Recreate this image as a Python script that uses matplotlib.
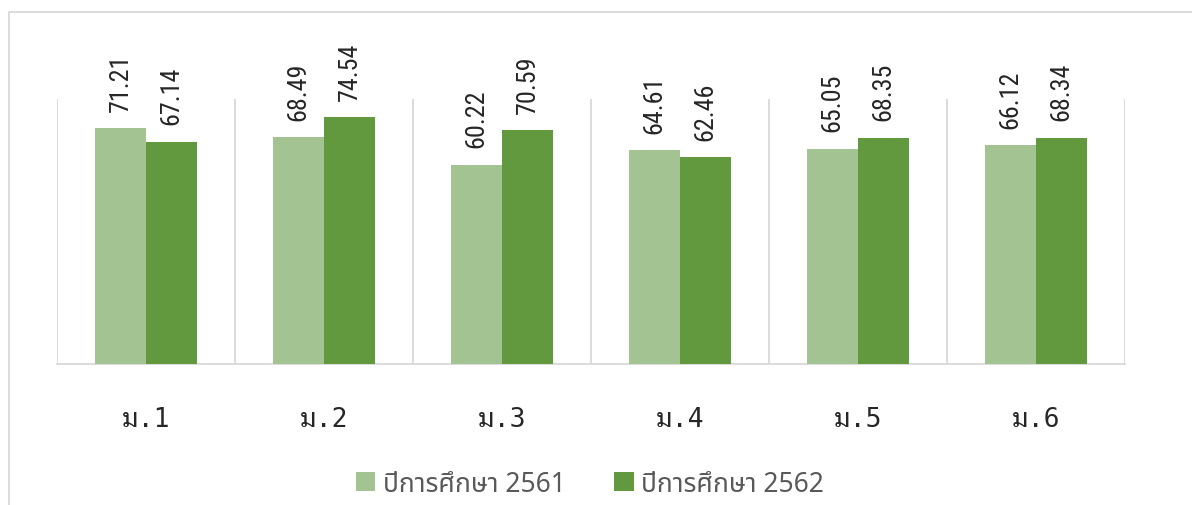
import matplotlib
matplotlib.use("Agg")
import matplotlib.pyplot as plt
from matplotlib import font_manager as fm
from matplotlib.patches import Rectangle
import numpy as np

categories = ["ม.1", "ม.2", "ม.3", "ม.4", "ม.5", "ม.6"]
series_names = ["ปีการศึกษา 2561", "ปีการศึกษา 2562"]
values_2561 = [71.21, 68.49, 60.22, 64.61, 65.05, 66.12]
values_2562 = [67.14, 74.54, 70.59, 62.46, 68.35, 68.34]

# find fonts with Thai glyphs
cands = []
try:
    from fontTools.ttLib import TTFont
    for f in fm.fontManager.ttflist:
        try:
            tt = TTFont(f.fname, fontNumber=0, lazy=True)
            cmap = tt.getBestCmap() or {}
            if all(c in cmap for c in (0x0E1B, 0x0E35, 0x0E21, 0x0E28)):
                cands.append(f.name)
        except Exception:
            pass
except Exception:
    pass


def pick(pref):
    for p in pref:
        if p in cands:
            return p
    return sorted(set(cands))[0] if cands else None


thai_family = pick(["Noto Sans Thai", "Noto Sans Thai UI", "Leelawadee UI", "Tahoma",
                    "Loma", "Garuda", "Waree", "Sarabun", "Noto Sans Thai Looped"])
thai_looped = pick(["Noto Sans Thai Looped", "Tlwg Typo", "Tlwg Mono", "Tahoma", "Loma",
                    "Noto Sans Thai", "Noto Sans Thai UI"])

thai_fams = ([thai_family] if thai_family else []) + ["DejaVu Sans"]
tick_fams = ["DejaVu Sans Mono"] + ([thai_looped] if thai_looped else []) + ["DejaVu Sans"]

# narrow font for the rotated numeric labels
narrow_path = None
stretch_ok = ("condensed", "semi-condensed", "extra-condensed", "narrow")
prefs = [("Liberation Sans Narrow", None), ("Roboto Condensed", None),
         ("Open Sans Condensed", None), ("Noto Sans", "cond"), ("Open Sans", "cond"),
         ("DejaVu Sans", "cond")]
for name, mode in prefs:
    for f in fm.fontManager.ttflist:
        if f.name != name or f.style != "normal":
            continue
        if str(f.weight) not in ("400", "normal", "regular", "book"):
            continue
        if mode == "cond" and str(f.stretch) not in stretch_ok:
            continue
        narrow_path = f.fname
        break
    if narrow_path:
        break
if narrow_path:
    label_prop = fm.FontProperties(fname=narrow_path, size=18.8)
else:
    label_prop = fm.FontProperties(family="DejaVu Sans", size=16)

light = "#A3C492"
dark = "#62993E"

W, H = 1192, 506
DPI = 100
fig = plt.figure(figsize=(W / DPI, H / DPI), dpi=DPI)
ax = fig.add_axes([57 / W, (H - 365) / H, (1125 - 57) / W, (365 - 100) / H])

x = np.arange(len(categories))
w = 0.286
b1 = ax.bar(x - w / 2, values_2561, w, color=light, label=series_names[0], zorder=3)
b2 = ax.bar(x + w / 2, values_2562, w, color=dark, label=series_names[1], zorder=3)

for bars, vals in ((b1, values_2561), (b2, values_2562)):
    for rect, v in zip(bars, vals):
        ax.annotate(f"{v:.2f}", (rect.get_x() + rect.get_width() / 2, v),
                    xytext=(0, 12.5), textcoords="offset points", rotation=90,
                    ha="center", va="bottom", color="#262626",
                    fontproperties=label_prop)

ax.set_xlim(-0.5, len(categories) - 0.5)
ax.set_ylim(0, 80)
for b in np.arange(-0.5, len(categories), 1.0):
    ax.axvline(b, color="#d9d9d9", lw=1.3, zorder=1)
for s in ("left", "right", "top"):
    ax.spines[s].set_visible(False)
ax.spines["bottom"].set_color("#d9d9d9")
ax.spines["bottom"].set_linewidth(1.3)
ax.set_yticks([])
ax.set_xticks(x)
ax.set_xticklabels(categories, family=tick_fams, fontsize=19, color="#262626")
ax.tick_params(axis="x", length=0, pad=30)

leg = fig.legend(handles=[b1, b2], labels=series_names, loc="center",
                 bbox_to_anchor=(590 / W, 1 - 485 / H), ncol=2, frameon=False,
                 prop=fm.FontProperties(family=thai_fams, size=19),
                 handlelength=0.75, handleheight=0.75, handletextpad=0.3,
                 columnspacing=1.8, labelcolor="#595959")

fig.patches.append(Rectangle((9 / W, -0.1), 1.2, 1 - 13 / H + 0.1, transform=fig.transFigure,
                             fill=False, edgecolor="#d9d9d9", lw=1.3))

fig.savefig("out.png", dpi=DPI)
